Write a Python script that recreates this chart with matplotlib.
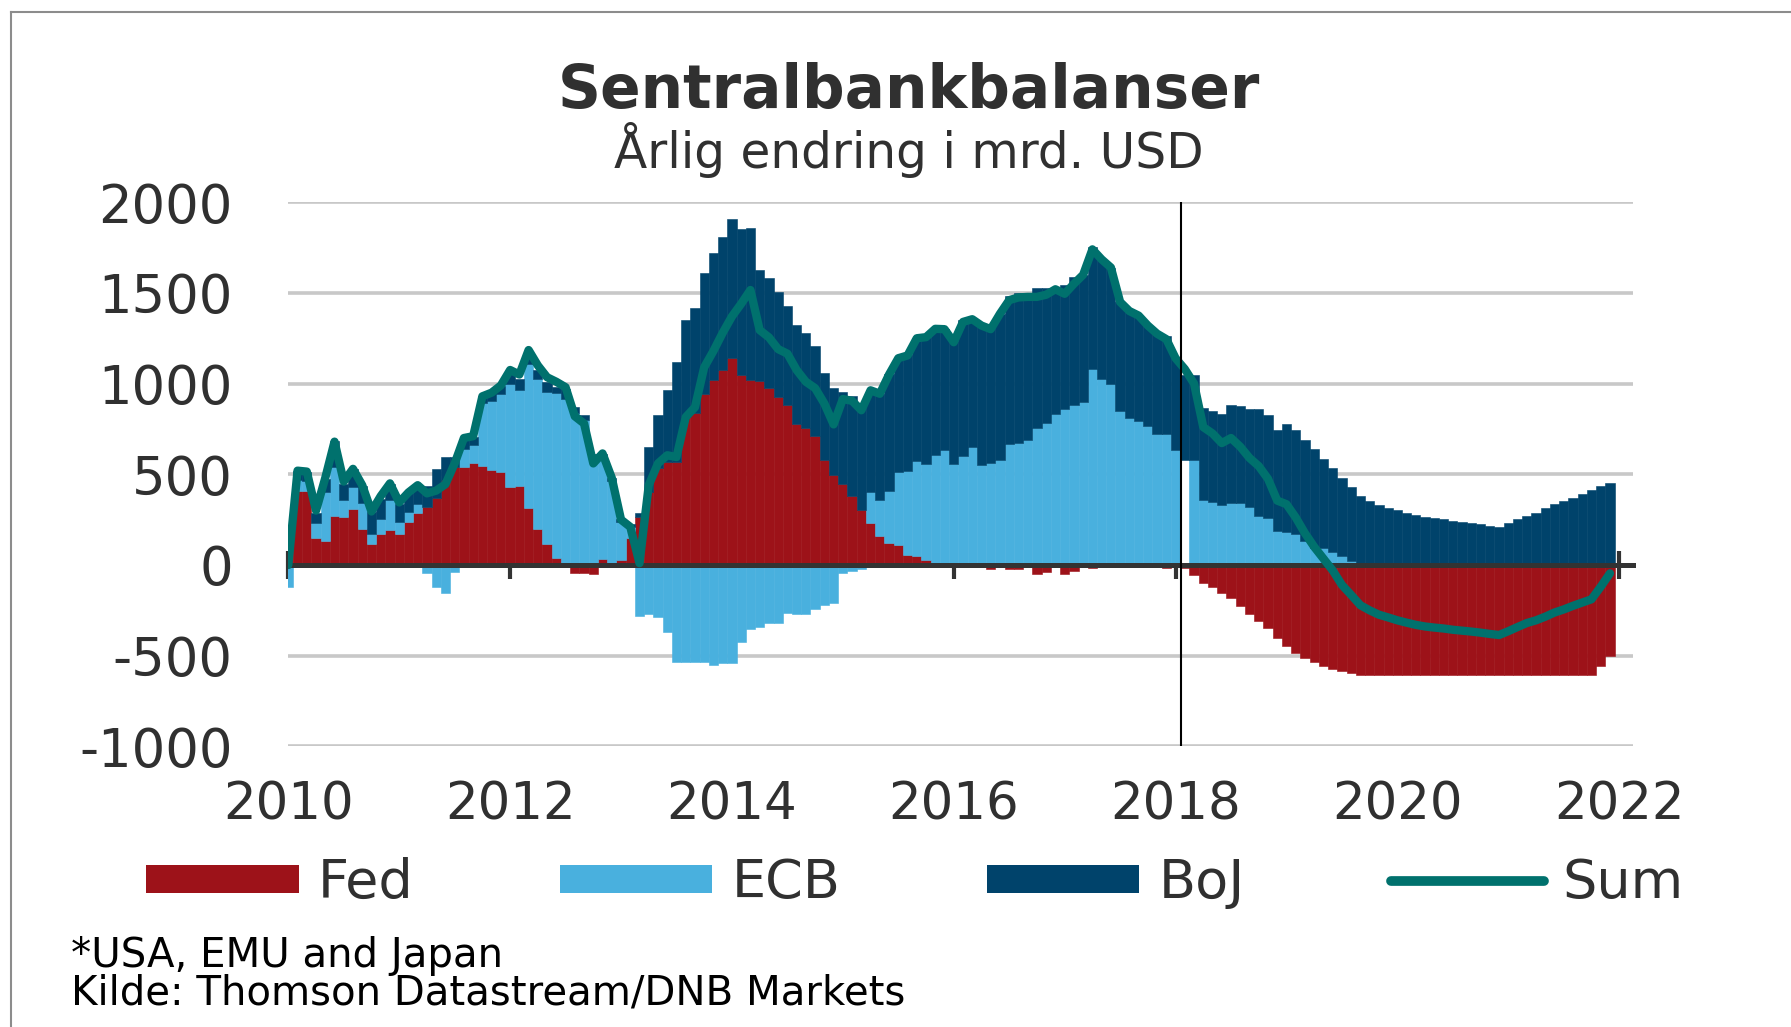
import numpy as np
import matplotlib
matplotlib.use('Agg')
from matplotlib import pyplot as plt
from matplotlib.lines import Line2D
from matplotlib.patches import Patch

plt.rcParams['axes.unicode_minus'] = False

# monthly values Jan 2010 - Dec 2021, one row per year (mrd. USD)
FED = [
    100, 410, 407, 147, 134, 271, 262, 308, 198, 115, 170, 192,
    170, 238, 288, 321, 367, 470, 541, 541, 563, 546, 522, 513,
    428, 433, 312, 196, 114, 37, 13, -42, -46, -51, 33, 5,
    27, 150, 266, 400, 535, 570, 570, 816, 836, 945, 1022, 1075,
    1140, 1045, 1018, 1014, 977, 926, 880, 779, 757, 711, 581, 495,
    444, 380, 303, 233, 160, 123, 108, 55, 51, 27, 10, 0,
    -10, -10, 0, 0, -22, 0, -24, -24, 0, -50, -38, 0,
    -50, -35, 0, -15, 0, 0, 0, 0, 0, 0, 0, -15,
    -5, -18, -55, -101, -119, -156, -183, -225, -271, -308, -348, -403,
    -445, -486, -513, -535, -555, -574, -587, -596, -605, -605, -605, -605,
    -605, -605, -605, -605, -605, -605, -605, -605, -605, -605, -605, -605,
    -605, -605, -605, -605, -605, -605, -605, -605, -605, -605, -555, -504,
]
ECB = [
    -120, 60, 55, 82, 270, 270, 95, 120, 145, 55, 86, 165,
    68, 55, 51, -42, -119, -152, -37, 100, 100, 345, 380, 430,
    570, 533, 797, 831, 839, 911, 904, 840, 800, 590, 560, 460,
    210, 60, -280, -270, -284, -367, -537, -537, -532, -532, -550, -541,
    -541, -422, -352, -343, -320, -317, -262, -272, -272, -240, -220, -207,
    -46, -33, -20, 170, 197, 284, 405, 464, 521, 528, 599, 636,
    557, 603, 651, 554, 565, 581, 666, 673, 688, 755, 785, 831,
    862, 884, 900, 1082, 1027, 1000, 849, 809, 794, 766, 724, 724,
    633, 580, 578, 358, 349, 331, 344, 340, 321, 270, 257, 189,
    184, 170, 135, 96, 92, 70, 50, 22, 8, 0, 0, 0,
    0, 0, 0, 0, 0, 0, 0, 0, 0, 0, 0, 0,
    0, 0, 0, 0, 0, 0, 0, 0, 0, 0, 0, 0,
]
BOJ = [
    20, 50, 50, 60, 70, 140, 90, 100, 90, 120, 110, 90,
    100, 105, 100, 115, 160, 125, 55, 55, 45, 40, 45, 45,
    60, 61, 70, 46, 55, 33, 55, 30, 25, 20, 20, 15,
    15, 15, 20, 251, 290, 395, 547, 535, 583, 663, 700, 731,
    766, 809, 841, 614, 607, 579, 546, 544, 524, 495, 476, 478,
    507, 551, 570, 560, 587, 646, 627, 636, 678, 701, 693, 666,
    679, 745, 704, 766, 757, 804, 818, 826, 790, 773, 743, 689,
    683, 701, 700, 673, 658, 640, 601, 591, 581, 554, 551, 536,
    512, 470, 470, 507, 501, 499, 536, 535, 537, 592, 570, 556,
    592, 574, 554, 541, 490, 464, 432, 410, 373, 355, 331, 316,
    303, 288, 275, 266, 257, 251, 242, 235, 229, 224, 214, 211,
    233, 251, 269, 288, 312, 334, 352, 370, 394, 412, 434, 453,
]
SUM = [
    0, 520, 515, 300, 480, 680, 460, 530, 440, 295, 380, 450,
    345, 400, 440, 395, 410, 445, 560, 700, 710, 930, 950, 990,
    1075, 1050, 1185, 1100, 1035, 1010, 980, 820, 780, 560, 615, 480,
    250, 210, 10, 440, 560, 605, 595, 815, 870, 1090, 1180, 1280,
    1370, 1440, 1516, 1295, 1255, 1190, 1165, 1075, 1010, 975, 890, 775,
    915, 905, 853, 963, 944, 1050, 1140, 1155, 1250, 1256, 1302, 1300,
    1228, 1340, 1355, 1320, 1300, 1385, 1460, 1475, 1478, 1478, 1490, 1520,
    1495, 1550, 1600, 1740, 1685, 1640, 1450, 1400, 1375, 1320, 1275, 1245,
    1140, 1080, 1000, 760, 725, 672, 700, 652, 590, 545, 475, 355,
    335, 262, 175, 100, 35, -30, -110, -165, -222, -250, -274, -289,
    -305, -318, -330, -339, -345, -350, -357, -362, -367, -373, -380, -386,
    -365, -342, -320, -305, -285, -262, -245, -225, -207, -189, -120, -46,
]

SERIES = ['Fed', 'ECB', 'BoJ']
YEAR_TICKS = [2010, 2012, 2014, 2016, 2018, 2020, 2022]
Y_TICKS = [-1000, -500, 0, 500, 1000, 1500, 2000]
START_YEAR = 2010
MARKER_YEAR = 2018.05
GAP_MONTH = 97  # ECB bar left blank next to the 2018 marker

COLORS = {'Fed': '#9d1219', 'ECB': '#49b0de', 'BoJ': '#00436b', 'Sum': '#00716d'}
TEXT = '#303030'
GRID = '#c8c8c8'
AXIS = '#333333'

W, H = 1791, 1027
fig = plt.figure(figsize=(W / 100, H / 100), dpi=100)
ax = fig.add_axes([288.3 / W, 1 - 746.4 / H, (1633.4 - 288.3) / W, (746.4 - 202.2) / H])

n = len(FED)
x = START_YEAR + np.arange(n) / 12
pos = np.zeros(n)
neg = np.zeros(n)
for name, vals in zip(SERIES, [FED, ECB, BOJ]):
    v = np.asarray(vals, dtype=float)
    bottom = np.where(v >= 0, pos, neg)
    colors = [COLORS[name]] * n
    if name == 'ECB':
        colors[GAP_MONTH] = 'white'
    ax.bar(x, v, width=1 / 12, bottom=bottom, color=colors, edgecolor=colors,
           linewidth=0.4, zorder=2)
    pos += np.clip(v, 0, None)
    neg += np.clip(v, None, 0)

ax.plot(x, SUM, color=COLORS['Sum'], lw=6, zorder=4,
        solid_joinstyle='round', solid_capstyle='round')
ax.axvline(MARKER_YEAR, color='black', lw=1.5, zorder=5)

for yv in Y_TICKS:
    if yv != 0:
        ax.axhline(yv, color=GRID, lw=2.6, zorder=0)

ax.set_xlim(2010, 2022.128)
ax.set_ylim(-1000, 2000)
for s in ['left', 'right', 'top']:
    ax.spines[s].set_visible(False)
ax.spines['bottom'].set_position(('data', 0))
ax.spines['bottom'].set_color(AXIS)
ax.spines['bottom'].set_linewidth(3.6)
ax.spines['bottom'].set_zorder(3)

ax.set_xticks(YEAR_TICKS)
ax.tick_params(axis='x', direction='inout', length=20, width=3, color=AXIS,
               labelbottom=False)
for yr in YEAR_TICKS:
    ax.text(yr, (746.4 - 820) / 544.2, str(yr), transform=ax.get_xaxis_transform(),
            ha='center', va='baseline', fontsize=37, color=TEXT)

ax.set_yticks(Y_TICKS)
ax.set_yticklabels([str(v) for v in Y_TICKS])
ax.tick_params(axis='y', length=0, pad=40, labelsize=38, labelcolor=TEXT)

fig.text(909 / W, 1 - 108 / H, 'Sentralbankbalanser', ha='center', va='baseline',
         fontsize=43, fontweight='bold', color=TEXT)
fig.text(909 / W, 1 - 168 / H, 'Årlig endring i mrd. USD', ha='center', va='baseline',
         fontsize=35, color=TEXT)

handles = [Patch(facecolor=COLORS[s], edgecolor='none') for s in SERIES]
handles.append(Line2D([0], [0], color=COLORS['Sum'], lw=7, solid_capstyle='round'))
fig.legend(handles, SERIES + ['Sum'], loc='center left',
           bbox_to_anchor=(146 / W, 1 - 883 / H), ncol=4, frameon=False,
           fontsize=39, handlelength=2.82, handleheight=0.42, handletextpad=0.35,
           columnspacing=2.7, borderpad=0, borderaxespad=0, labelcolor=TEXT)

# two footnote lines in one text; the baseline given is that of the last line
fig.text(71 / W, 1 - 1005 / H,
         '*USA, EMU and Japan\nKilde: Thomson Datastream/DNB Markets',
         ha='left', va='baseline', fontsize=29, linespacing=0.95, color='black')

# frame lines along the top and left edge
fig.add_artist(Line2D([11 / W, 1], [1 - 11.5 / H] * 2, color='#8c8c8c', lw=1.5))
fig.add_artist(Line2D([11 / W] * 2, [0, 1 - 11.5 / H], color='#8c8c8c', lw=1.5))

fig.savefig('out.png', dpi=100)
